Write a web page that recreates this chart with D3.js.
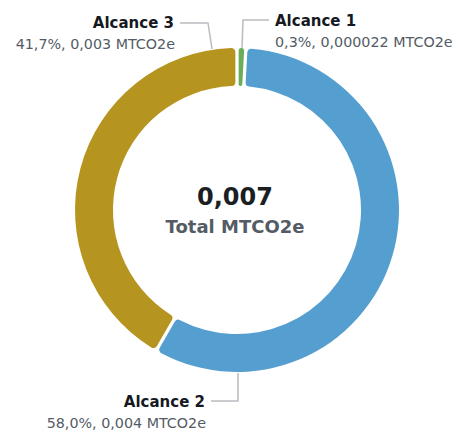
<!DOCTYPE html>
<html lang="es">
<head>
<meta charset="UTF-8">
<script src="https://d3js.org/d3.v7.min.js"></script>
<style>
  body { margin: 0; background: #fff; }
  text { font-family: "DejaVu Sans", "Noto Sans", sans-serif; }
</style>
</head>
<body>
<svg id="chart" width="458" height="433"></svg>
<script>
// data
var scopes = ["Alcance 1", "Alcance 2", "Alcance 3"];
var shares = [0.3, 58.0, 41.7];
var amounts = ["0,000022", "0,004", "0,003"];
var colors = ["#6aae5a", "#559fd0", "#b5951f"];
var totalLabel = "0,007";
var totalUnit = "Total MTCO2e";

var svg = d3.select("#chart");
var cx = 237, cy = 210, outerR = 162, innerR = 124;

var rows = scopes.map(function (s, i) {
    return { name: s, share: shares[i], amount: amounts[i], color: colors[i] };
});

var pie = d3.pie().sort(null).value(function (d) { return d.share; });
var arcs = pie(rows);

// give tiny slices a visible minimum width
var minAngle = 0.055;
arcs.forEach(function (a, i) {
    var w = a.endAngle - a.startAngle;
    if (w < minAngle) {
        a.endAngle = a.startAngle + minAngle;
        if (arcs[i + 1]) arcs[i + 1].startAngle = a.endAngle;
    }
});

var arc = d3.arc()
    .innerRadius(innerR)
    .outerRadius(outerR)
    .cornerRadius(4)
    .padAngle(0.016);

var g = svg.append("g").attr("transform", "translate(" + cx + "," + cy + ")");

g.selectAll("path")
    .data(arcs)
    .enter().append("path")
    .attr("d", arc)
    .attr("fill", function (d) { return d.data.color; });

// center text
g.append("text")
    .attr("text-anchor", "middle")
    .attr("x", -2)
    .attr("y", -5)
    .attr("font-size", 24)
    .attr("font-weight", 700)
    .attr("fill", "#1b1e23")
    .text(totalLabel);
g.append("text")
    .attr("text-anchor", "middle")
    .attr("x", -2)
    .attr("y", 23)
    .attr("font-size", 18)
    .attr("font-weight", 700)
    .attr("fill", "#545b64")
    .text(totalUnit);

// label placement per slice (leader line + text)
var labelPos = [
    { line: [[242, 48], [243, 20], [269, 20]], x: 275, y: 26, anchor: "start" },
    { line: [[238, 373], [238, 401], [211, 401]], x: 205, y: 407, anchor: "end" },
    { line: [[212, 49], [208, 23], [180, 23]], x: 174, y: 28, anchor: "end" }
];

var line = d3.line();
rows.forEach(function (d, i) {
    var p = labelPos[i];
    svg.append("path")
        .attr("d", line(p.line))
        .attr("fill", "none")
        .attr("stroke", "#b9bcc0")
        .attr("stroke-width", 1.5);
    svg.append("text")
        .attr("x", p.x).attr("y", p.y)
        .attr("text-anchor", p.anchor)
        .attr("font-size", 15)
        .attr("font-weight", 700)
        .attr("fill", "#16191f")
        .text(d.name);
    svg.append("text")
        .attr("x", p.anchor === "end" ? p.x + 1 : p.x)
        .attr("y", p.y + 21)
        .attr("text-anchor", p.anchor)
        .attr("font-size", 14.3)
        .attr("fill", "#545b64")
        .text(d3.format(".1f")(d.share).replace(".", ",") + "%, " + d.amount + " MTCO2e");
});
</script>
</body>
</html>
